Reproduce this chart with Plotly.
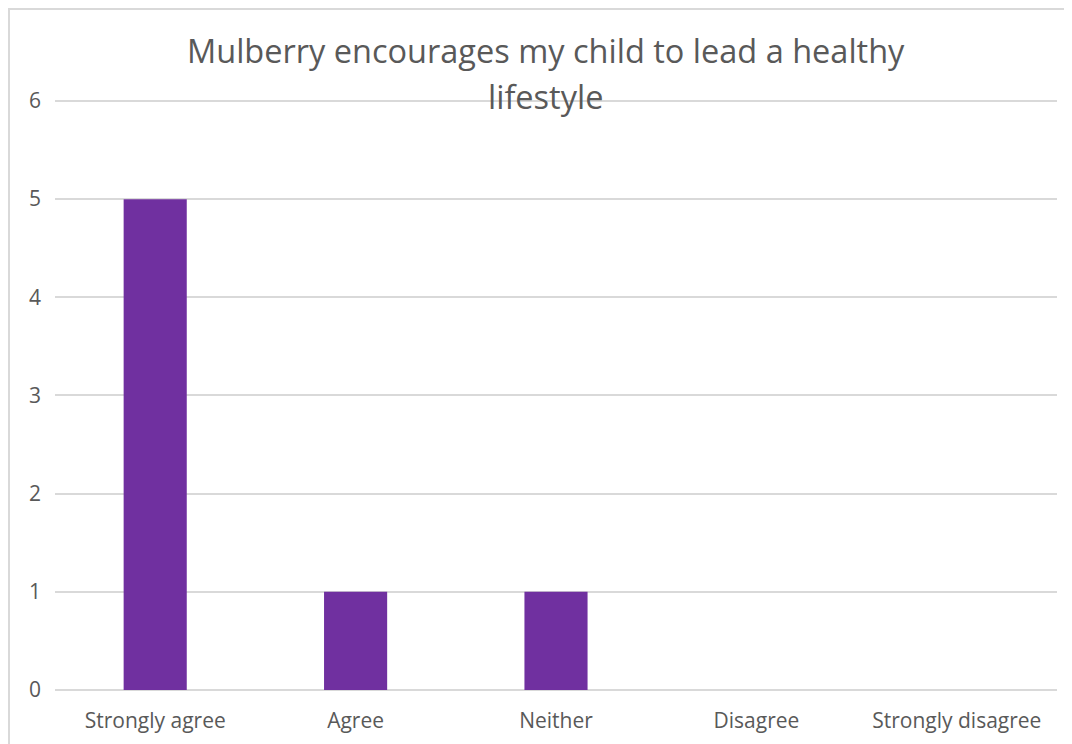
import plotly.graph_objects as go

# Survey responses
responses = ["Strongly agree", "Agree", "Neither", "Disagree", "Strongly disagree"]
counts = [5, 1, 1, 0, 0]
y_ticks = [0, 1, 2, 3, 4, 5, 6]

title_lines = ["Mulberry encourages my child to lead a healthy", "lifestyle"]

font_name = "Open Sans"
text_grey = "#595959"
grid_grey = "#d9d9d9"

# plot area height in figure pixels (page has an 8px body margin)
plot_h = 591

fig = go.Figure()
fig.add_trace(go.Bar(
    x=responses,
    y=counts,
    marker_color="#7030a0",
    marker_line_width=0,
))

# Two title lines placed by hand to get the wide line spacing
fig.add_annotation(text=title_lines[0], xref="paper", yref="paper",
                   x=0.49, y=1.0 + 48 / plot_h, yanchor="middle", showarrow=False,
                   font=dict(family=font_name, size=32.5, color=text_grey))
fig.add_annotation(text=title_lines[1], xref="paper", yref="paper",
                   x=0.49, y=1.0 + 3 / plot_h, yanchor="middle", showarrow=False,
                   font=dict(family=font_name, size=32.5, color=text_grey))

# Chart frame
fig.add_shape(type="rect", xref="paper", yref="paper",
              x0=-0.0459, y0=-0.2, x1=1.05, y1=1.0 + 90 / plot_h,
              line=dict(color=grid_grey, width=2), fillcolor="rgba(0,0,0,0)", layer="below")

fig.update_layout(
    width=1072,
    height=744,
    plot_bgcolor="white",
    paper_bgcolor="white",
    bargap=0.685,
    showlegend=False,
    margin=dict(l=47, r=23, t=91, b=62),
    font=dict(family=font_name, color=text_grey),
    xaxis=dict(
        showgrid=False,
        showline=False,
        ticks="",
        tickfont=dict(size=21, color=text_grey),
        ticklabelstandoff=16,
    ),
    yaxis=dict(
        range=[0, 6.02],
        tickvals=y_ticks,
        showgrid=True,
        gridcolor=grid_grey,
        gridwidth=1.5,
        zeroline=True,
        zerolinecolor=grid_grey,
        zerolinewidth=1.5,
        showline=False,
        ticks="",
        tickfont=dict(size=21, color=text_grey),
        ticklabelstandoff=13,
    ),
)

fig.write_html("out.html")
